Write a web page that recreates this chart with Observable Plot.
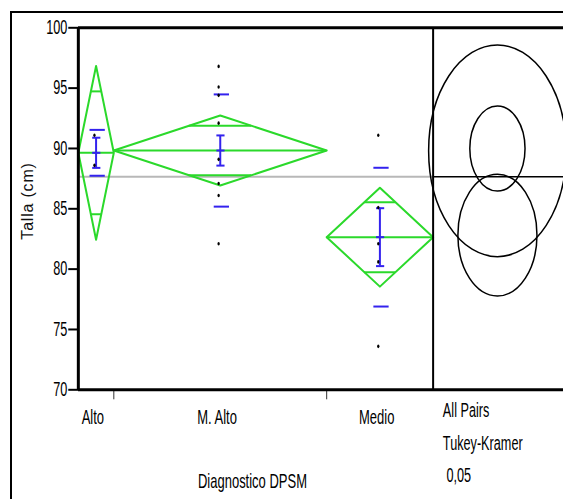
<!DOCTYPE html>
<html><head><meta charset="utf-8">
<script src="https://cdn.jsdelivr.net/npm/d3@7"></script>
<script src="https://cdn.jsdelivr.net/npm/@observablehq/plot@0.6"></script>
<style>
html,body{margin:0;padding:0;background:#fff;overflow:hidden;width:563px;height:499px;}
#chart{position:absolute;left:0;top:0;width:563px;height:499px;}
#chart svg *{vector-effect:non-scaling-stroke;}
#frame{position:absolute;left:10px;top:11px;width:640px;height:640px;border:2px solid #000;box-sizing:border-box;pointer-events:none;}
#ylab{position:absolute;left:27.5px;top:201px;transform:translate(-50%,-50%) rotate(-90deg);font:16px "Liberation Sans",Arial,sans-serif;letter-spacing:0.8px;white-space:nowrap;color:#111;}
</style></head><body>
<div id="chart"></div><div id="frame"></div><div id="ylab"></div>
<script>
// ---- data ----
const categories = ["Alto", "M. Alto", "Medio"];
const counts = [2, 12, 6];
const means = [89.64, 89.83, 82.65];
const ciHalf = [7.2, 2.9, 4.1];          // 95% CI half-width (diamond height)
const stdDevs = [1.9, 4.65, 5.75];       // std dev lines
const stdErrs = [1.25, 1.25, 2.4];       // error bars
const circleRadii = [8.77, 3.52, 5.04];  // Tukey-Kramer comparison circles
const pointsAlto = [91.1, 88.6];
const pointsMAlto = [96.8, 95.1, 94.4, 92.1, 89.1, 87.1, 86.1, 82.1];
const pointsMedio = [91.1, 85.1, 82.1, 80.6, 73.6];
const yTicks = [70, 75, 80, 85, 90, 95, 100];
const xTitle = "Diagnostico DPSM";
const yTitle = "Talla (cm)";
const testLabels = ["All Pairs", "Tukey-Kramer", "\u00a00,05"];

// ---- derived ----
const total = d3.sum(counts);
const ends = d3.cumsum(counts);
const groups = categories.map((cat, i) => {
  const start = ends[i] - counts[i], end = ends[i];
  return {cat, n: counts[i], start, end, mid: (start + end) / 2,
    mean: means[i], ci: ciHalf[i], sd: stdDevs[i], se: stdErrs[i], r: circleRadii[i]};
});
const grandMean = d3.sum(groups, g => g.n * g.mean) / total;
const pointSets = [pointsAlto, pointsMAlto, pointsMedio];
const points = pointSets.flatMap((arr, i) => arr.map(v => ({cat: categories[i], x: groups[i].mid, v})));
const diamonds = groups.flatMap(g => [
  {cat: g.cat, x: g.start, y: g.mean}, {cat: g.cat, x: g.mid, y: g.mean + g.ci},
  {cat: g.cat, x: g.end, y: g.mean}, {cat: g.cat, x: g.mid, y: g.mean - g.ci},
  {cat: g.cat, x: g.start, y: g.mean}]);
const ov = Math.SQRT1_2;
const overlaps = groups.flatMap(g => [1, -1].map(s => ({
  y: g.mean + s * g.ci * ov, x1: g.mid - (1 - ov) * g.n / 2, x2: g.mid + (1 - ov) * g.n / 2})));
const sdLines = groups.flatMap(g => [1, -1].map(s => ({y: g.mean + s * g.sd, x1: g.mid - 0.35, x2: g.mid + 0.51})));
const caps = groups.flatMap(g => [1, 0, -1].map(s => ({y: g.mean + s * g.se, x1: g.mid - 0.2, x2: g.mid + 0.26})));
const boundaries = ends.slice(0, -1);

// layout constants
const W = 866, H = 499;
const xMax = 27.34, panelCenter = 23.625;
const mTop = 27.3, mBottom = 109.7;
const green = "#2bd92b", blue = "#3322ee";
const font = "Liberation Sans, Arial, sans-serif";
const testDy = [21.2, 53.5, 85.5];

const chart = Plot.plot({
  width: W, height: H,
  marginLeft: 120, marginRight: 0, marginTop: mTop, marginBottom: mBottom,
  style: {fontFamily: font, fontSize: "19.5px", background: "transparent", color: "#000"},
  x: {domain: [0, xMax]},
  y: {domain: [70, 100]},
  r: {type: "linear", domain: [0, 30], range: [0, H - mTop - mBottom]},
  marks: [
    Plot.axisY({ticks: yTicks, tickSize: 15, tickPadding: 2, strokeWidth: 2, fontSize: 19.5, label: null}),
    Plot.axisX({ticks: boundaries, tickSize: 10, tickFormat: () => "", stroke: "#333", strokeWidth: 1, label: null}),
    Plot.ruleY([grandMean], {x1: 0, x2: total, stroke: "#b8b8b8", strokeWidth: 2}),
    Plot.ruleY([grandMean], {x1: total, x2: xMax, stroke: "#000", strokeWidth: 1.5}),
    Plot.line(diamonds, {x: "x", y: "y", z: "cat", stroke: green, strokeWidth: 2}),
    Plot.ruleY(groups, {y: "mean", x1: "start", x2: "end", stroke: green, strokeWidth: 2}),
    Plot.ruleY(overlaps, {y: "y", x1: "x1", x2: "x2", stroke: green, strokeWidth: 2}),
    Plot.ruleY(sdLines, {y: "y", x1: "x1", x2: "x2", stroke: blue, strokeWidth: 2}),
    Plot.ruleX(groups, {x: "mid", y1: d => d.mean - d.se, y2: d => d.mean + d.se, stroke: blue, strokeWidth: 2}),
    Plot.ruleY(caps, {y: "y", x1: "x1", x2: "x2", stroke: blue, strokeWidth: 2}),
    Plot.dot(points, {x: "x", y: "v", r: 1.8, fill: "#000", dx: -2.5}),
    Plot.dot(groups, {x: panelCenter, y: "mean", r: "r", stroke: "#000", fill: "none", strokeWidth: 1.5, dy: -2}),
    Plot.ruleX([0], {y1: 70, y2: 100, stroke: "#000", strokeWidth: 3}),
    Plot.ruleX([total], {y1: 70, y2: 100, stroke: "#000", strokeWidth: 2}),
    Plot.ruleY([70, 100], {x1: 0, x2: xMax, stroke: "#000", strokeWidth: 3}),
    Plot.text(groups, {x: "mid", text: "cat", frameAnchor: "bottom", lineAnchor: "middle", dy: 27.6, dx: -5, fontSize: 20}),
    Plot.text([xTitle], {x: total / 2, text: d => d, frameAnchor: "bottom", lineAnchor: "middle", dy: 91.6, dx: -5, fontSize: 20}),
    ...testLabels.map((t, i) => Plot.text([t], {x: total, text: d => d, frameAnchor: "bottom", lineAnchor: "middle",
      textAnchor: "start", dx: 15, dy: testDy[i], fontSize: 19.5}))
  ]
});
chart.setAttribute("width", 563);
chart.setAttribute("height", H);
chart.setAttribute("preserveAspectRatio", "none");
chart.style.width = "563px";
chart.style.height = H + "px";
chart.style.maxWidth = "none";
document.getElementById("chart").appendChild(chart);
document.getElementById("ylab").textContent = yTitle;
</script>
</body></html>
